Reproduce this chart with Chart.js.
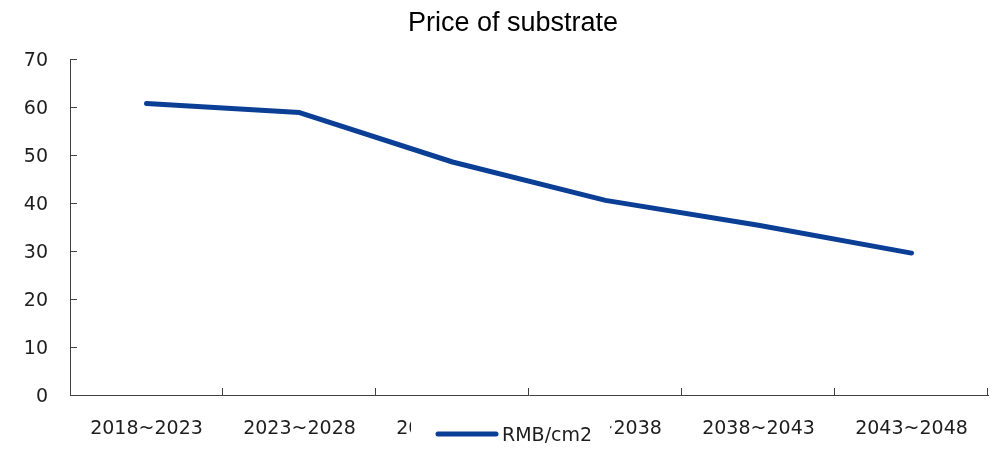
<!DOCTYPE html>
<html>
<head>
<meta charset="utf-8">
<script src="https://cdn.jsdelivr.net/npm/chart.js@4"></script>
<style>
  html, body { margin: 0; padding: 0; background: #fff; }
  #wrap { width: 1001px; height: 455px; }
</style>
</head>
<body>
<div id="wrap"><canvas id="chart" width="1001" height="455"></canvas></div>
<script>
// data
const periods = ['2018~2023', '2023~2028', '2028~2033', '2033~2038', '2038~2043', '2043~2048'];
const price = [60.8, 58.9, 48.6, 40.6, 35.4, 29.6];
const seriesName = 'RMB/cm2';
const yTicks = [0, 10, 20, 30, 40, 50, 60, 70];

const lineColor = '#0b3f96';
const axisColor = '#404040';
const textColor = '#1e1e1e';

// title in the original is centred a bit right of the canvas middle
const titleShift = {
  id: 'titleShift',
  afterLayout(chart) {
    if (chart.titleBlock) chart.titleBlock.left += 38;
  }
};

// small tick marks pointing into the plot, like the original
const innerTicks = {
  id: 'innerTicks',
  afterDraw(chart) {
    const ctx = chart.ctx;
    const x = chart.scales.x, y = chart.scales.y;
    ctx.save();
    ctx.strokeStyle = axisColor;
    ctx.lineWidth = 1;
    ctx.beginPath();
    y.ticks.forEach(t => {
      const py = Math.round(y.getPixelForValue(t.value)) + 0.5;
      ctx.moveTo(x.left, py);
      ctx.lineTo(x.left + 7, py);
    });
    for (let i = 1; i <= periods.length; i++) {
      const px = i < periods.length
        ? (x.getPixelForValue(i - 1) + x.getPixelForValue(i)) / 2
        : x.right;
      const rx = Math.round(px) - 0.5;
      ctx.moveTo(rx, y.bottom);
      ctx.lineTo(rx, y.bottom - 7);
    }
    ctx.stroke();
    ctx.restore();
  }
};

// legend sits on top of the category labels in the original
const overlapLegend = {
  id: 'overlapLegend',
  afterDraw(chart) {
    const ctx = chart.ctx;
    const ds = chart.data.datasets[0];
    const cy = 434;
    const x0 = 438;
    ctx.save();
    ctx.fillStyle = '#fff';
    ctx.fillRect(411, 416, 199, 36);
    ctx.strokeStyle = ds.borderColor;
    ctx.lineWidth = 5;
    ctx.lineCap = 'round';
    ctx.beginPath();
    ctx.moveTo(x0, cy);
    ctx.lineTo(x0 + 58, cy);
    ctx.stroke();
    ctx.fillStyle = textColor;
    ctx.font = '19px "DejaVu Sans"';
    ctx.textBaseline = 'middle';
    ctx.fillText(ds.label, x0 + 64, cy + 2);
    ctx.restore();
  }
};

new Chart(document.getElementById('chart'), {
  type: 'line',
  data: {
    labels: periods,
    datasets: [{
      label: seriesName,
      data: price,
      borderColor: lineColor,
      backgroundColor: lineColor,
      borderWidth: 5,
      borderCapStyle: 'round',
      borderJoinStyle: 'round',
      pointRadius: 0,
      tension: 0
    }]
  },
  options: {
    responsive: false,
    animation: false,
    layout: { padding: { left: 0, right: 13, top: 0, bottom: 0 } },
    plugins: {
      legend: { display: false },
      tooltip: { enabled: false },
      title: {
        display: true,
        text: 'Price of substrate',
        color: '#000',
        font: { family: '"Liberation Sans", Arial, sans-serif', size: 27, weight: 'normal' },
        padding: { top: 7, bottom: 20 }
      }
    },
    scales: {
      x: {
        offset: true,
        grid: { display: false, drawTicks: false },
        border: { display: true, color: axisColor, width: 1 },
        ticks: {
          color: textColor,
          padding: 23,
          maxRotation: 0,
          autoSkip: false,
          font: { family: '"DejaVu Sans"', size: 19 }
        },
        afterFit(scale) { scale.height = 60; }
      },
      y: {
        min: 0,
        max: 70,
        afterBuildTicks(scale) { scale.ticks = yTicks.map(v => ({ value: v })); },
        grid: { display: false, drawTicks: false },
        border: { display: true, color: axisColor, width: 1 },
        ticks: {
          color: textColor,
          padding: 22,
          labelOffset: 2,
          font: { family: '"DejaVu Sans"', size: 19 }
        },
        afterFit(scale) { scale.width = 70; }
      }
    }
  },
  plugins: [titleShift, innerTicks, overlapLegend]
});
</script>
</body>
</html>
